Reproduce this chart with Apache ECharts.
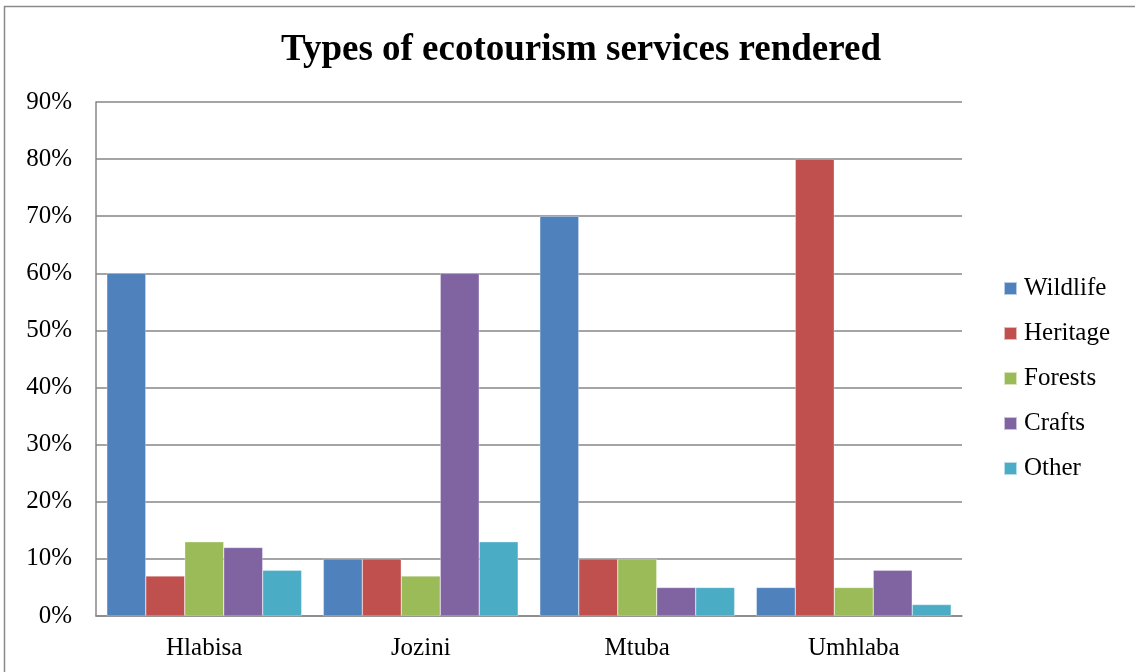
<!DOCTYPE html>
<html>
<head>
<meta charset="utf-8">
<script src="https://cdn.jsdelivr.net/npm/echarts@6/dist/echarts.min.js"></script>
<style>
  html, body { margin: 0; padding: 0; background: #fff; }
  #chart { width: 1135px; height: 672px; }
</style>
</head>
<body>
<div id="chart"></div>
<script>
// data
const regions = ['Hlabisa', 'Jozini', 'Mtuba', 'Umhlaba'];
const wildlife = [60, 10, 70, 5];
const heritage = [7, 10, 10, 80];
const forests = [13, 7, 10, 5];
const crafts = [12, 60, 5, 8];
const other = [8, 13, 5, 2];
const yTicks = [0, 10, 20, 30, 40, 50, 60, 70, 80, 90];

const seriesDefs = [
  { name: 'Wildlife', data: wildlife, color: '#4F81BD' },
  { name: 'Heritage', data: heritage, color: '#C0504D' },
  { name: 'Forests', data: forests, color: '#9BBB59' },
  { name: 'Crafts', data: crafts, color: '#8064A2' },
  { name: 'Other', data: other, color: '#4BACC6' }
];

const serif = '"Liberation Serif", "DejaVu Serif", serif';
const chart = echarts.init(document.getElementById('chart'));

chart.setOption({
  animation: false,
  backgroundColor: '#fff',
  textStyle: { fontFamily: serif, color: '#000' },
  graphic: [{
    type: 'rect',
    shape: { x: 4.5, y: 6.5, width: 1200, height: 700 },
    style: { fill: 'none', stroke: '#8a8a8a', lineWidth: 1.5 },
    silent: true
  }],
  title: {
    text: 'Types of ecotourism services rendered',
    left: 576, top: 27, textAlign: 'center',
    textStyle: { fontFamily: serif, fontSize: 37, fontWeight: 'bold', color: '#000' }
  },
  legend: {
    orient: 'vertical',
    left: 1003, top: 276, padding: 0,
    itemWidth: 13, itemHeight: 13, itemGap: 20,
    icon: 'rect',
    textStyle: { fontFamily: serif, fontSize: 25, color: '#000', padding: [0, 0, 0, 2] },
    data: seriesDefs.map(s => s.name)
  },
  grid: { left: 96, top: 102, width: 866, height: 514, containLabel: false },
  xAxis: {
    type: 'category',
    data: regions,
    axisLine: { lineStyle: { color: '#868686', width: 1.5 } },
    axisTick: { show: false },
    axisLabel: { fontFamily: serif, fontSize: 25, color: '#000', margin: 20 }
  },
  yAxis: {
    type: 'value',
    min: yTicks[0], max: yTicks[yTicks.length - 1], interval: 10,
    axisLine: { show: true, lineStyle: { color: '#868686', width: 1.5 } },
    axisTick: { show: false },
    splitLine: { lineStyle: { color: '#868686', width: 1.5 } },
    axisLabel: { fontFamily: serif, fontSize: 25, color: '#000', margin: 24, formatter: '{value}%' }
  },
  series: seriesDefs.map(s => ({
    name: s.name,
    type: 'bar',
    data: s.data,
    barGap: '0%',
    barCategoryGap: '10%',
    itemStyle: { color: s.color, borderColor: 'rgba(255,255,255,0.6)', borderWidth: 0.5 }
  }))
});
</script>
</body>
</html>
